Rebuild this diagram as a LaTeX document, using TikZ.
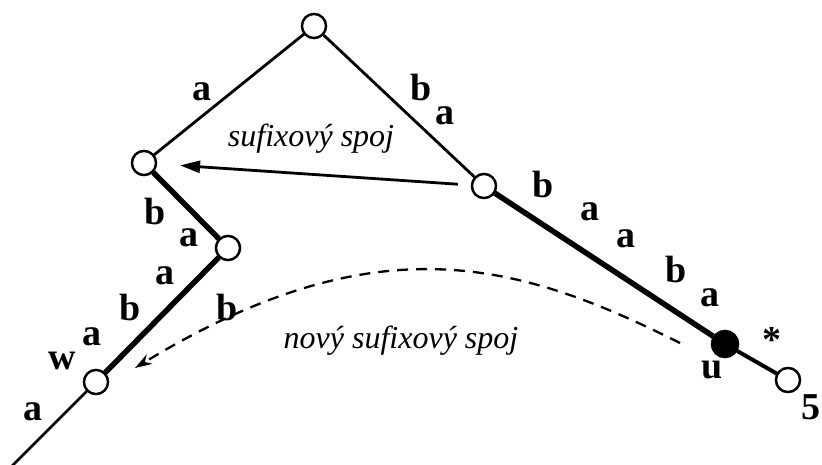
\documentclass[tikz,border=0pt]{standalone}
\usepackage{fontspec}
\setmainfont{Liberation Serif}
\usetikzlibrary{arrows.meta}
\begin{document}
\begin{tikzpicture}[x=1pt,y=-1pt,
  vtx/.style={circle,draw,line width=2.3pt,fill=white,minimum size=24pt,inner sep=0pt},
  vtxfull/.style={vtx,fill=black,minimum size=26pt},
  thin edge/.style={line width=2.8pt},
  thick edge/.style={line width=5.5pt},
  mid edge/.style={line width=4pt},
  lbl/.style={font=\fontsize{38}{40}\selectfont\bfseries,inner sep=0pt},
  note/.style={font=\fontsize{32}{36}\selectfont\itshape,inner sep=0pt,anchor=base},
  slink/.style={line width=2.8pt,-{Triangle[length=20pt,width=12pt]}},
  newlink/.style={line width=2.3pt,dash pattern=on 11pt off 8pt,-{Stealth[length=17pt,width=11pt]}}]
\useasboundingbox (0,0) rectangle (822,465);

% vertices of the suffix tree
\node[vtx] (top) at (314,26) {};
\node[vtx] (L) at (144,163) {};
\node[vtx] (R) at (484,186) {};
\node[vtx] (M) at (228,248) {};
\node[vtx] (W) at (96,382) {};
\node[vtxfull] (u) at (725,344) {};
\node[vtx] (five) at (788,380) {};
\coordinate (down) at (6,472);
\coordinate (dstart) at (680,343);
\coordinate (dend) at (135,368);

% tree edges
\draw[thin edge] (top) -- (L);
\draw[thin edge] (top) -- (R);
\draw[thick edge] (L) -- (M);
\draw[thick edge] (M) -- (W);
\draw[thin edge] (W) -- (down);
\draw[thick edge] (R) -- (u);
\draw[mid edge] (u) -- (five);
\foreach \n in {top,L,R,M,W,five} \node[vtx] at (\n) {};
\node[vtxfull] at (u) {};

% suffix links
\draw[slink,shorten <=13pt,shorten >=23pt] (R) -- (L);
\draw[newlink] (dstart) .. controls (520,263) and (378,220) .. (dend);

% edge labels
\node[lbl] (l1) at (202,92) {a};
\node[lbl] (l2) at (421,88) {b};
\node[lbl] (l3) at (445,116) {a};
\node[lbl] (l4) at (543,185) {b};
\node[lbl] (l5) at (590,212) {a};
\node[lbl] (l6) at (626,239) {a};
\node[lbl] (l7) at (676,270) {b};
\node[lbl] (l8) at (710,298) {a};
\node[lbl] (l9) at (772,340) {*};
\node[lbl] (l10) at (712,370) {u};
\node[lbl] (l11) at (811,407) {5};
\node[lbl] (l12) at (155,212) {b};
\node[lbl] (l13) at (189,238) {a};
\node[lbl] (l14) at (165,276) {a};
\node[lbl] (l15) at (130,308) {b};
\node[lbl] (l16) at (92,337) {a};
\node[lbl] (l17) at (62,361) {w};
\node[lbl] (l18) at (33,412) {a};
\node[lbl] (l19) at (227,308) {b};

% captions of the links
\node[note] (t1) at (311,147) {sufixový spoj};
\node[note] (t2) at (401,348) {nový sufixový spoj};
\end{tikzpicture}
\end{document}
